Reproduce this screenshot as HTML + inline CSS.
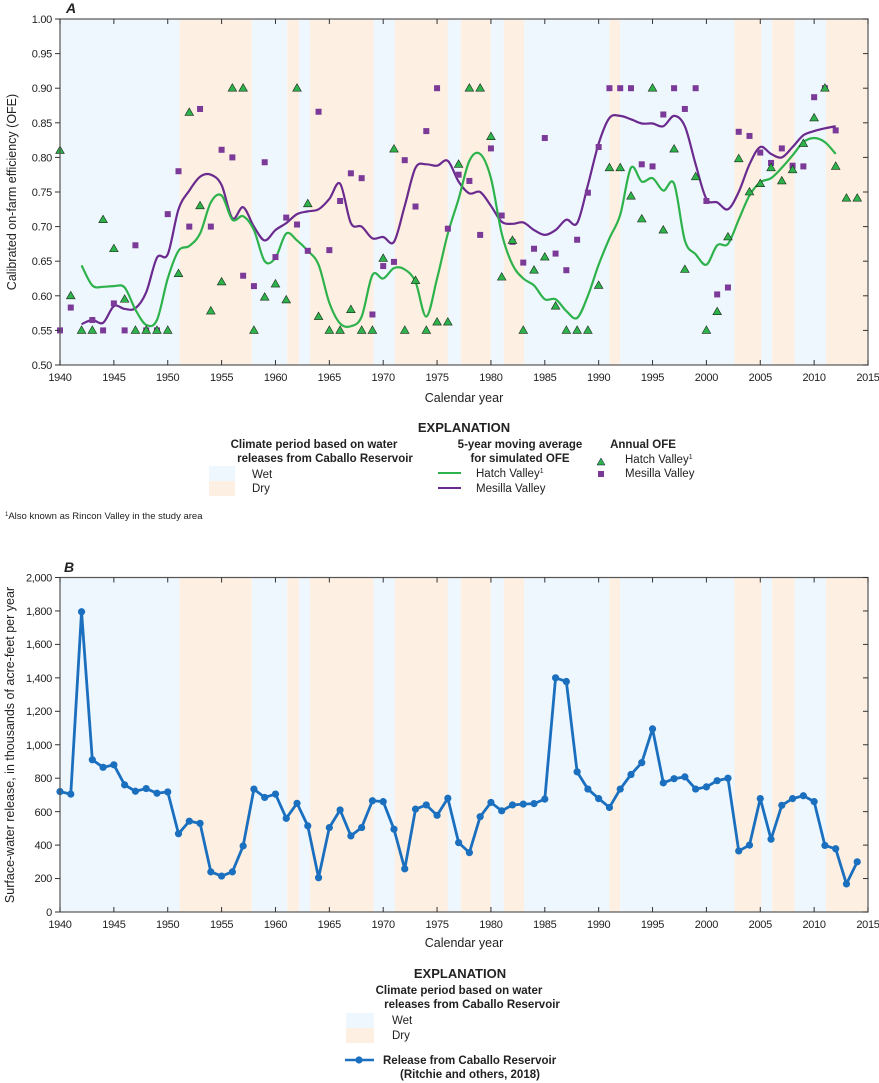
<!DOCTYPE html>
<html><head><meta charset="utf-8"><style>
body{margin:0;background:#fff}
svg{display:block}
text{font-family:"Liberation Sans Narrow","Liberation Sans",sans-serif;fill:#222}
.t{font-size:11px;letter-spacing:-0.3px}
.b{font-weight:bold}
</style></head><body>
<svg id="s" width="879" height="1083" viewBox="0 0 879 1083" xmlns="http://www.w3.org/2000/svg">
<g id="bgA"></g><g id="bgB"></g>
<g id="dA"></g><g id="dB"></g>
<rect x="60" y="19" width="808" height="346" fill="none" stroke="#555" stroke-width="1.2"/>
<rect x="60" y="577.5" width="808" height="334.5" fill="none" stroke="#555" stroke-width="1.2"/>
<g id="ticks" stroke="#333" stroke-width="1"></g>
<text x="66" y="13" font-size="14" class="b" font-style="italic">A</text>
<text x="64" y="572" font-size="14" class="b" font-style="italic">B</text>
<g class="t" text-anchor="end">
<text x="52" y="23">1.00</text><text x="52" y="57.6">0.95</text><text x="52" y="92.2">0.90</text><text x="52" y="126.8">0.85</text><text x="52" y="161.4">0.80</text><text x="52" y="196">0.75</text><text x="52" y="230.6">0.70</text><text x="52" y="265.2">0.65</text><text x="52" y="299.8">0.60</text><text x="52" y="334.4">0.55</text><text x="52" y="369">0.50</text>
<text x="52" y="581.5">2,000</text><text x="52" y="615">1,800</text><text x="52" y="648">1,600</text><text x="52" y="682">1,400</text><text x="52" y="715">1,200</text><text x="52" y="749">1,000</text><text x="52" y="782">800</text><text x="52" y="816">600</text><text x="52" y="849">400</text><text x="52" y="882">200</text><text x="52" y="916">0</text>
</g>
<g class="t" text-anchor="middle">
<text x="60" y="381">1940</text><text x="113.9" y="381">1945</text><text x="167.7" y="381">1950</text><text x="221.6" y="381">1955</text><text x="275.5" y="381">1960</text><text x="329.3" y="381">1965</text><text x="383.2" y="381">1970</text><text x="437.1" y="381">1975</text><text x="490.9" y="381">1980</text><text x="544.8" y="381">1985</text><text x="598.7" y="381">1990</text><text x="652.5" y="381">1995</text><text x="706.4" y="381">2000</text><text x="760.3" y="381">2005</text><text x="814.1" y="381">2010</text><text x="868" y="381">2015</text>
<text x="60" y="928">1940</text><text x="113.9" y="928">1945</text><text x="167.7" y="928">1950</text><text x="221.6" y="928">1955</text><text x="275.5" y="928">1960</text><text x="329.3" y="928">1965</text><text x="383.2" y="928">1970</text><text x="437.1" y="928">1975</text><text x="490.9" y="928">1980</text><text x="544.8" y="928">1985</text><text x="598.7" y="928">1990</text><text x="652.5" y="928">1995</text><text x="706.4" y="928">2000</text><text x="760.3" y="928">2005</text><text x="814.1" y="928">2010</text><text x="868" y="928">2015</text>
</g>
<text x="464" y="402" font-size="12.5" text-anchor="middle">Calendar year</text>
<text x="464" y="947" font-size="12.5" text-anchor="middle">Calendar year</text>
<text transform="translate(16,192) rotate(-90)" font-size="12.5" text-anchor="middle">Calibrated on-farm efficiency (OFE)</text>
<text transform="translate(14,745) rotate(-90)" font-size="12.5" text-anchor="middle">Surface-water release, in thousands of acre-feet per year</text>
<text x="464" y="432" font-size="13" class="b" text-anchor="middle">EXPLANATION</text>
<text x="314" y="448" font-size="11.5" class="b" text-anchor="middle">Climate period based on water</text>
<text x="325" y="462" font-size="11.5" class="b" text-anchor="middle">releases from Caballo Reservoir</text>
<rect x="209" y="466" width="26" height="15" fill="#eef6fe"/><rect x="209" y="481" width="26" height="15" fill="#fdf0e2"/>
<text x="252" y="478" font-size="11.5">Wet</text><text x="252" y="492" font-size="11.5">Dry</text>
<text x="520" y="448" font-size="11.5" class="b" text-anchor="middle">5-year moving average</text>
<text x="520" y="462" font-size="11.5" class="b" text-anchor="middle">for simulated OFE</text>
<line x1="438" y1="473" x2="461" y2="473" stroke="#2eb24b" stroke-width="2"/>
<line x1="438" y1="488" x2="461" y2="488" stroke="#6a2a8e" stroke-width="2"/>
<text x="476" y="477" font-size="11.5">Hatch Valley<tspan font-size="7" dy="-4">1</tspan></text>
<text x="476" y="492" font-size="11.5">Mesilla Valley</text>
<text x="643" y="448" font-size="11.5" class="b" text-anchor="middle">Annual OFE</text>
<polygon points="601,458 597,465 605,465" fill="#2eb24b" stroke="#114" stroke-width="0.5"/>
<rect x="598" y="471" width="6" height="6" fill="#7b3a98"/>
<text x="625" y="463" font-size="11.5">Hatch Valley<tspan font-size="7" dy="-4">1</tspan></text>
<text x="625" y="477" font-size="11.5">Mesilla Valley</text>
<text x="5" y="519" font-size="9.5"><tspan font-size="6" dy="-3">1</tspan><tspan dy="3">Also known as Rincon Valley in the study area</tspan></text>
<text x="460" y="978" font-size="13" class="b" text-anchor="middle">EXPLANATION</text>
<text x="459" y="994" font-size="11.5" class="b" text-anchor="middle">Climate period based on water</text>
<text x="472" y="1008" font-size="11.5" class="b" text-anchor="middle">releases from Caballo Reservoir</text>
<rect x="346" y="1013" width="28" height="15" fill="#eef6fe"/><rect x="346" y="1028" width="28" height="15" fill="#fdf0e2"/>
<text x="392" y="1024" font-size="11.5">Wet</text><text x="392" y="1039" font-size="11.5">Dry</text>
<line x1="345" y1="1060" x2="374" y2="1060" stroke="#1a6fbf" stroke-width="2.5"/><circle cx="359" cy="1060" r="3.6" fill="#1a6fbf"/>
<text x="383" y="1064" font-size="11.5" class="b">Release from Caballo Reservoir</text>
<text x="400" y="1078" font-size="11.5" class="b">(Ritchie and others, 2018)</text>
</svg>
<script>
const NS="http://www.w3.org/2000/svg";
const X=y=>60+(y-1940)*808/75;
const YA=v=>19+(1-v)/0.5*346;
const YB=v=>912-v*334.5/2000;
function el(p,t,a){const e=document.createElementNS(NS,t);for(const k in a)e.setAttribute(k,a[k]);document.getElementById(p).appendChild(e);return e;}
const bands=[[1940,1951.1,0],[1951.1,1957.8,1],[1957.8,1961.1,0],[1961.1,1962.2,1],[1962.2,1963.2,0],[1963.2,1969.1,1],[1969.1,1971.1,0],[1971.1,1976,1],[1976,1977.2,0],[1977.2,1980,1],[1980,1981.2,0],[1981.2,1983.1,1],[1983.1,1991,0],[1991,1992,1],[1992,2002.6,0],[2002.6,2005.1,1],[2005.1,2006.1,0],[2006.1,2008.2,1],[2008.2,2011.1,0],[2011.1,2015,1]];
for(const [a,b,d] of bands){const f=d?"#fdf0e2":"#eef6fe";
el("bgA","rect",{x:X(a),y:19,width:X(b)-X(a),height:346,fill:f});
el("bgB","rect",{x:X(a),y:577.5,width:X(b)-X(a),height:334.5,fill:f});}
for(let y=1940;y<=2015;y+=5){const x=X(y);
for(const [t,bm] of [[19,365],[577.5,912]]){el("ticks","line",{x1:x,y1:t,x2:x,y2:t+5});el("ticks","line",{x1:x,y1:bm,x2:x,y2:bm-5});}}
for(let i=0;i<=10;i++){const ya=19+i*34.6,yb=577.5+i*33.45;
el("ticks","line",{x1:55,y1:ya,x2:60,y2:ya});el("ticks","line",{x1:868,y1:ya,x2:863,y2:ya});
el("ticks","line",{x1:55,y1:yb,x2:60,y2:yb});el("ticks","line",{x1:868,y1:yb,x2:863,y2:yb});}
function smooth(pts){let d="M"+pts[0][0]+","+pts[0][1];
for(let i=0;i<pts.length-1;i++){const p0=pts[i-1]||pts[i],p1=pts[i],p2=pts[i+1],p3=pts[i+2]||p2;
d+=" C"+(p1[0]+(p2[0]-p0[0])/6)+","+(p1[1]+(p2[1]-p0[1])/6)+" "+(p2[0]-(p3[0]-p1[0])/6)+","+(p2[1]-(p3[1]-p1[1])/6)+" "+p2[0]+","+p2[1];}return d;}
const G=[.644,.615,.613,.614,.612,.58,.558,.565,.625,.665,.672,.69,.735,.745,.71,.715,.695,.65,.655,.69,.68,.665,.645,.59,.56,.556,.57,.63,.625,.64,.638,.62,.57,.625,.69,.74,.795,.805,.77,.69,.645,.625,.615,.595,.595,.578,.568,.60,.645,.683,.717,.785,.765,.77,.752,.762,.68,.66,.645,.673,.675,.71,.745,.764,.77,.785,.803,.822,.828,.822,.805];
const P=[.559,.565,.561,.585,.581,.582,.605,.655,.66,.725,.752,.772,.775,.76,.712,.728,.70,.68,.695,.705,.718,.722,.725,.74,.762,.705,.70,.683,.685,.678,.73,.785,.79,.788,.795,.765,.748,.75,.73,.707,.704,.706,.695,.688,.695,.71,.705,.76,.82,.857,.86,.855,.849,.849,.845,.86,.845,.79,.74,.735,.725,.75,.79,.815,.805,.80,.815,.832,.838,.842,.845];
const H=[.81,.60,.55,.55,.71,.668,.595,.55,.55,.55,.55,.632,.865,.73,.578,.62,.90,.90,.55,.598,.617,.594,.90,.733,.57,.55,.55,.58,.55,.55,.654,.812,.55,.622,.55,.562,.562,.79,.90,.90,.83,.627,.68,.55,.637,.656,.585,.55,.55,.55,.615,.785,.785,.744,.711,.90,.695,.812,.638,.772,.55,.577,.685,.798,.75,.762,.785,.766,.782,.82,.857,.90,.787,.741,.741];
const M=[.55,.583,null,.565,.55,.589,.55,.673,.55,.55,.718,.78,.70,.87,.70,.811,.80,.629,.614,.793,.656,.713,.703,.665,.866,.666,.737,.777,.77,.573,.643,.649,.796,.729,.838,.90,.697,.775,.766,.688,.813,.716,.678,.648,.668,.828,.661,.637,.681,.749,.815,.90,.90,.90,.79,.787,.862,.90,.87,.90,.737,.602,.612,.837,.831,.807,.792,.813,.788,.787,.887,.90,.839];
el("dA","path",{d:smooth(P.map((v,i)=>[X(1942+i),YA(v)])),fill:"none",stroke:"#6a2a8e","stroke-width":2.2});
el("dA","path",{d:smooth(G.map((v,i)=>[X(1942+i),YA(v)])),fill:"none",stroke:"#2eb24b","stroke-width":2.2});
M.forEach((v,i)=>{if(v==null)return;const x=X(1940+i),y=YA(v);el("dA","rect",{x:x-3,y:y-3,width:6,height:6,fill:"#7b3a98"});});
H.forEach((v,i)=>{const x=X(1940+i),y=YA(v);el("dA","polygon",{points:`${x},${y-4.5} ${x-4.3},${y+3} ${x+4.3},${y+3}`,fill:"#2eb24b",stroke:"#1a2a1a","stroke-width":0.6});});
const R=[720,705,1795,910,865,880,760,722,738,710,718,468,543,530,240,215,240,395,735,685,705,560,650,515,205,505,610,455,505,665,660,495,258,615,640,578,680,415,355,570,655,605,640,645,648,675,1400,1378,838,735,678,625,735,822,893,1095,772,797,808,735,748,785,800,365,400,678,435,638,678,695,660,398,378,168,300];
const rp=R.map((v,i)=>[X(1940+i),YB(v)]);
el("dB","polyline",{points:rp.map(p=>p.join(",")).join(" "),fill:"none",stroke:"#1a6fbf","stroke-width":2.8,"stroke-linejoin":"round"});
rp.forEach(p=>el("dB","circle",{cx:p[0],cy:p[1],r:3.6,fill:"#1a6fbf"}));
</script>
</body></html>
